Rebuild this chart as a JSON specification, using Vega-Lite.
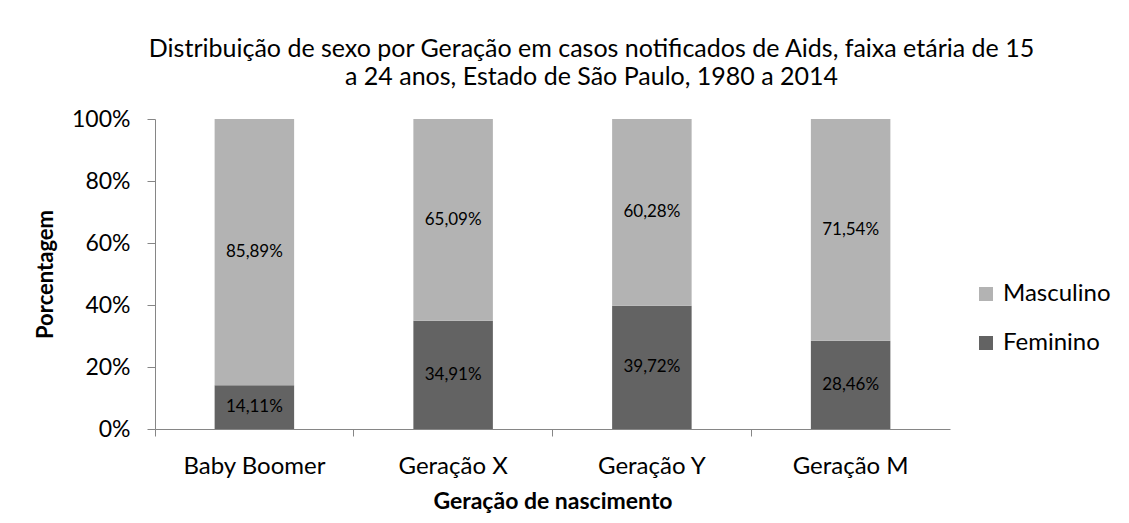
{
  "$schema": "https://vega.github.io/schema/vega-lite/v6.json",
  "autosize": "none",
  "width": 795,
  "height": 310,
  "padding": {"left": 155, "top": 119, "right": 179, "bottom": 94},
  "background": "white",
  "config": {
    "locale": {"number": {"decimal": ",", "thousands": ".", "grouping": [3], "currency": ["R$", ""]}},
    "font": "Lato",
    "view": {"stroke": null}
  },
  "title": {
    "text": ["Distribuição de sexo por Geração em casos notificados de Aids, faixa etária de 15", "a 24 anos, Estado de São Paulo, 1980 a 2014"],
    "fontSize": 25,
    "fontWeight": "normal",
    "font": "Lato",
    "color": "black",
    "anchor": "middle",
    "dx": 39,
    "lineHeight": 28,
    "offset": 18
  },
  "data": {
    "values": [
      {"gen": "Baby Boomer", "sexo": "Feminino", "ord": 1, "pct": 0.1411},
      {"gen": "Baby Boomer", "sexo": "Masculino", "ord": 2, "pct": 0.8589},
      {"gen": "Geração X", "sexo": "Feminino", "ord": 1, "pct": 0.3491},
      {"gen": "Geração X", "sexo": "Masculino", "ord": 2, "pct": 0.6509},
      {"gen": "Geração Y", "sexo": "Feminino", "ord": 1, "pct": 0.3972},
      {"gen": "Geração Y", "sexo": "Masculino", "ord": 2, "pct": 0.6028},
      {"gen": "Geração M", "sexo": "Feminino", "ord": 1, "pct": 0.2846},
      {"gen": "Geração M", "sexo": "Masculino", "ord": 2, "pct": 0.7154}
    ]
  },
  "encoding": {
    "x": {
      "field": "gen", "type": "nominal", "sort": null,
      "scale": {"paddingInner": 0.6, "paddingOuter": 0.3},
      "axis": {
        "title": "Geração de nascimento",
        "titleFontSize": 23, "titleFontWeight": "bold", "titleColor": "black", "titlePadding": 12,
        "labelAngle": 0, "labelFontSize": 24, "labelColor": "black", "labelPadding": 18,
        "domainColor": "#868686", "tickColor": "#868686", "tickSize": 7, "bandPosition": -0.75
      }
    },
    "order": {"field": "ord", "type": "quantitative"}
  },
  "layer": [
    {
      "mark": {"type": "bar"},
      "encoding": {
        "y": {
          "field": "pct", "type": "quantitative", "stack": "zero",
          "scale": {"domain": [0, 1]},
          "axis": {
            "title": "Porcentagem", "format": ".0%", "values": [0, 0.2, 0.4, 0.6, 0.8, 1],
            "titleFontSize": 22, "titleFontWeight": "bold", "titleColor": "black", "titlePadding": 14,
            "labelFontSize": 23, "labelColor": "black", "labelPadding": 17,
            "domainColor": "#868686", "tickColor": "#868686", "tickSize": 8, "grid": false
          }
        },
        "color": {
          "field": "sexo", "type": "nominal",
          "scale": {"domain": ["Masculino", "Feminino"], "range": ["#b3b3b3", "#636363"]},
          "legend": {
            "title": null, "orient": "none", "legendX": 819, "legendY": 163,
            "symbolType": "square", "symbolSize": 196, "symbolStrokeWidth": 0, "symbolOpacity": 1,
            "labelFontSize": 24, "labelColor": "black", "rowPadding": 25, "labelOffset": 5
          }
        }
      }
    },
    {
      "mark": {"type": "text", "fontSize": 17, "color": "black", "baseline": "middle"},
      "encoding": {
        "y": {"field": "pct", "type": "quantitative", "stack": "zero", "bandPosition": 0.5},
        "text": {"field": "pct", "type": "quantitative", "format": ".2%"}
      }
    }
  ]
}
